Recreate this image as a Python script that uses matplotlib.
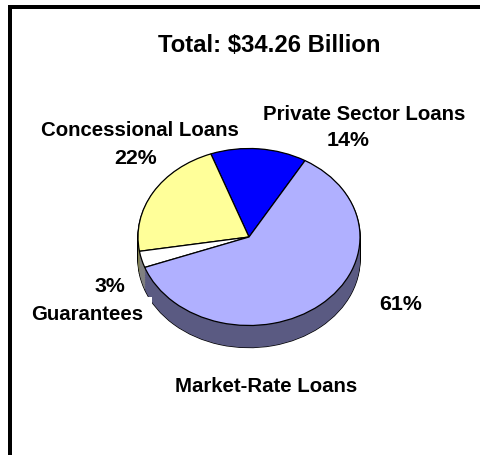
import numpy as np
import matplotlib
matplotlib.use('Agg')
import matplotlib.pyplot as plt
from matplotlib.patches import Rectangle

plt.rcParams['font.family'] = ['Liberation Sans', 'DejaVu Sans']

W, H = 481, 455

title = 'Total: $34.26 Billion'
names = ['Private Sector Loans', 'Concessional Loans', 'Guarantees', 'Market-Rate Loans']
values = [14, 22, 3, 61]
percents = ['14%', '22%', '3%', '61%']
top_colors = ['#0000FF', '#FFFF99', '#FFFFFF', '#B0B0FF']
side_colors = ['#000080', '#808050', '#808080', '#5A5A82']

# ellipse in pixels
cx, cy, rx, ry, depth = 249, 237, 111, 88.5, 22


def fx(x):
    return x / W


def fy(y):
    return 1 - y / H


fig = plt.figure(figsize=(W / 100, H / 100), dpi=100, facecolor='white')

# frame, only top and left
fig.add_artist(Rectangle((fx(8), 0), 4 / W, fy(5), transform=fig.transFigure, color='black', lw=0))
fig.add_artist(Rectangle((fx(8), fy(9)), 1 - fx(8), 4 / H, transform=fig.transFigure, color='black', lw=0))

drop = depth / ry
ax = fig.add_axes([fx(cx - rx), fy(cy + ry + depth), 2 * rx / W, (2 * ry + depth) / H])

# side of the pie is a stack of wedges, outline first and fill on top
offsets = np.arange(drop, 0, -0.02)
start = 59.7
for off in offsets:
    ax.pie(values, colors=side_colors, startangle=start, center=(0, -off), counterclock=True,
           wedgeprops={'edgecolor': 'black', 'linewidth': 1.0})
for off in offsets:
    ax.pie(values, colors=side_colors, startangle=start, center=(0, -off), counterclock=True,
           wedgeprops={'linewidth': 0})

ax.pie(values, colors=top_colors, startangle=start, center=(0, 0), counterclock=True,
       wedgeprops={'edgecolor': 'black', 'linewidth': 0.9})
ax.set_aspect('auto')
ax.set_xlim(-1, 1)
ax.set_ylim(-1 - drop, 1)
ax.axis('off')

fs = 14.7
pct = 15.4
fig.text(fx(269.5), fy(46), title, fontsize=17.2, fontweight='bold', ha='center', va='center')
fig.text(fx(364.5), fy(114.5), names[0], fontsize=fs, fontweight='bold', ha='center', va='center')
fig.text(fx(348.5), fy(140), percents[0], fontsize=pct, fontweight='bold', ha='center', va='center')
fig.text(fx(139.5), fy(131), names[1], fontsize=fs, fontweight='bold', ha='center', va='center')
fig.text(fx(136), fy(158), percents[1], fontsize=pct, fontweight='bold', ha='center', va='center')
fig.text(fx(110), fy(286), percents[2], fontsize=pct, fontweight='bold', ha='center', va='center')
fig.text(fx(87.5), fy(315), names[2], fontsize=fs, fontweight='bold', ha='center', va='center',
         bbox={'facecolor': 'white', 'edgecolor': 'none', 'pad': 6}, zorder=5)
fig.text(fx(401), fy(305), percents[3], fontsize=pct, fontweight='bold', ha='center', va='center')
fig.text(fx(266), fy(386), names[3], fontsize=fs, fontweight='bold', ha='center', va='center')

fig.savefig('out.png', dpi=100)
